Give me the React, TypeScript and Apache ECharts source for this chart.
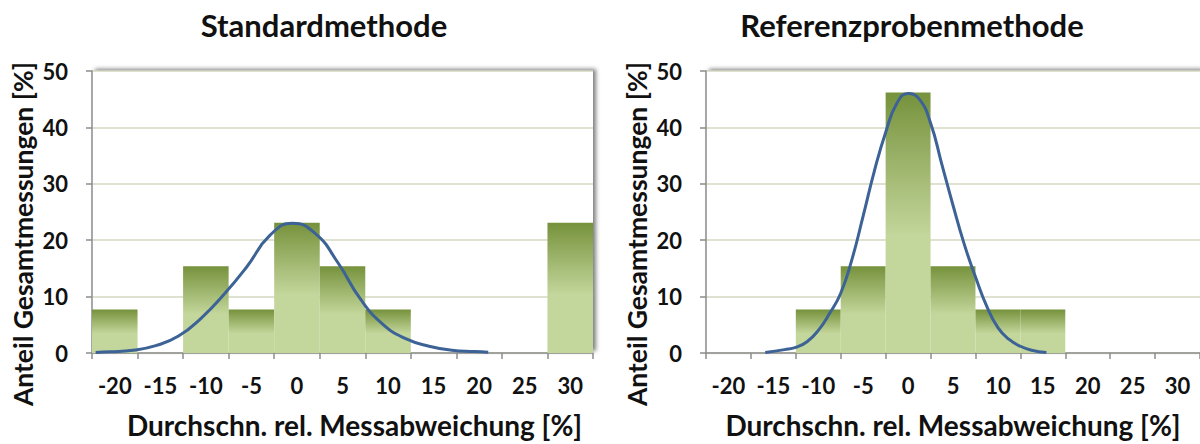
import React, { useEffect, useRef } from "react";
import * as echarts from "echarts";

const categories = ["-20", "-15", "-10", "-5", "0", "5", "10", "15", "20", "25", "30"];
const stdBars = [7.7, 0, 15.4, 7.7, 23.1, 15.4, 7.7, 0, 0, 0, 23.1];
const refBars = [0, 0, 7.7, 15.4, 46.2, 15.4, 7.7, 7.7, 0, 0, 0];

const stdCurveX = [-22.1, -20.5, -18, -15.5, -13, -10.5, -8, -5.5, -3, -0.5, 2, 4.5, 7, 9.5, 12, 14.5, 17, 19.5, 21];
const stdCurveY = [0.1, 0.2, 0.5, 1.3, 3.0, 6.2, 10.4, 15.3, 20.8, 23.0, 21.2, 16.0, 9.5, 5.0, 2.5, 1.2, 0.5, 0.25, 0.15];

const refCurveX = [-15.9, -13.75, -12.5, -11.25, -10, -8.75, -7.5, -6.25, -5, -3.75, -2.5, -1.25, 0, 1.25, 2.5, 3.75, 5, 6.25, 7.5, 8.75, 10, 11.25, 12.5, 13.75, 15.4];
const refCurveY = [0.1, 0.6, 1.0, 2.0, 4.0, 7.0, 10.6, 16.6, 24.3, 32.3, 39.1, 44.3, 46.0, 45.0, 40.8, 33.5, 26.2, 19.3, 13.5, 8.3, 4.5, 2.4, 1.2, 0.5, 0.1];

const titles = ["Standardmethode", "Referenzprobenmethode"];
const yName = "Anteil Gesamtmessungen [%]";
const xName = "Durchschn. rel. Messabweichung [%]";

const FONT = "Lato";

export default function App() {
  const ref = useRef<HTMLDivElement>(null);
  useEffect(() => {
    document.body.style.margin = "0";
    const chart = echarts.init(ref.current!, undefined, { renderer: "svg" });
    const barColor = {
      type: "linear",
      x: 0,
      y: 0,
      x2: 0,
      y2: 1,
      colorStops: [
        { offset: 0, color: "#76923C" },
        { offset: 0.55, color: "#C3D69B" },
        { offset: 1, color: "#C3D69B" },
      ],
    };
    const grids = [
      { left: 92, top: 71, width: 501, height: 287 },
      { left: 706, top: 71, width: 494, height: 287 },
    ];
    const gridOpt = grids.map((g) => ({
      ...g,
      show: true,
      borderWidth: 0,
      backgroundColor: "#fff",
      shadowColor: "rgba(0,0,0,0.5)",
      shadowBlur: 4,
      shadowOffsetX: 3,
      shadowOffsetY: -2,
    }));
    const xAxes: any[] = [];
    const yAxes: any[] = [];
    [0, 1].forEach((i) => {
      xAxes.push({
        type: "category",
        gridIndex: i,
        data: categories,
        boundaryGap: true,
        axisLine: { onZero: false, lineStyle: { color: "#8C8C8C", width: 1.5 } },
        axisTick: { show: true, length: 6, lineStyle: { color: "#8C8C8C", width: 1.5 } },
        axisLabel: { color: "#111", fontFamily: FONT, fontWeight: "bold", fontSize: 22, margin: 21, interval: 0 },
        name: xName,
        nameLocation: "middle",
        nameGap: 58,
        nameTextStyle: {
          color: "#111",
          fontFamily: FONT,
          fontWeight: "bold",
          fontSize: 28,
          padding: i === 0 ? [0, 0, 0, 24] : [0, 0, 0, 0],
        },
      });
      xAxes.push({
        type: "value",
        gridIndex: i,
        min: -22.5,
        max: 32.5,
        show: false,
        axisLine: { show: false, onZero: false },
        splitLine: { show: false },
      });
      yAxes.push({
        type: "value",
        gridIndex: i,
        min: 0,
        max: 50,
        interval: 10,
        axisLine: { show: true, onZero: false, lineStyle: { color: "#8C8C8C", width: 1.5 } },
        axisTick: { show: true, length: 6, lineStyle: { color: "#8C8C8C", width: 1.5 } },
        axisLabel: { color: "#111", fontFamily: FONT, fontWeight: "bold", fontSize: 22, margin: 24 },
        splitLine: { show: true, lineStyle: { color: "#D6D8C2", width: 1.5 } },
        name: yName,
        nameLocation: "middle",
        nameGap: 56,
        nameTextStyle: {
          color: "#111",
          fontFamily: FONT,
          fontWeight: "bold",
          fontSize: 26.5,
          padding: [0, 44, 0, 0],
        },
      });
    });
    const curve = (xs: number[], ys: number[]) => xs.map((x, k) => [x, ys[k]]);
    chart.setOption({
      animation: false,
      title: [
        { text: titles[0], left: 319, top: 4, textAlign: "center", textStyle: { fontFamily: FONT, fontWeight: "bold", fontSize: 31, color: "#111" } },
        { text: titles[1], left: 907, top: 4, textAlign: "center", textStyle: { fontFamily: FONT, fontWeight: "bold", fontSize: 31, color: "#111" } },
      ],
      grid: gridOpt,
      xAxis: xAxes,
      yAxis: yAxes,
      series: [
        { type: "bar", xAxisIndex: 0, yAxisIndex: 0, data: stdBars, barWidth: "100%", barGap: "0%", barCategoryGap: "0%", itemStyle: { color: barColor } },
        { type: "line", xAxisIndex: 1, yAxisIndex: 0, data: curve(stdCurveX, stdCurveY), smooth: 0.5, symbol: "none", lineStyle: { color: "#3C6296", width: 3 } },
        { type: "bar", xAxisIndex: 2, yAxisIndex: 1, data: refBars, barWidth: "100%", barGap: "0%", barCategoryGap: "0%", itemStyle: { color: barColor } },
        { type: "line", xAxisIndex: 3, yAxisIndex: 1, data: curve(refCurveX, refCurveY), smooth: 0.5, symbol: "none", lineStyle: { color: "#3C6296", width: 3 } },
      ],
    });
    return () => chart.dispose();
  }, []);
  return <div ref={ref} style={{ width: 1200, height: 444 }} />;
}
